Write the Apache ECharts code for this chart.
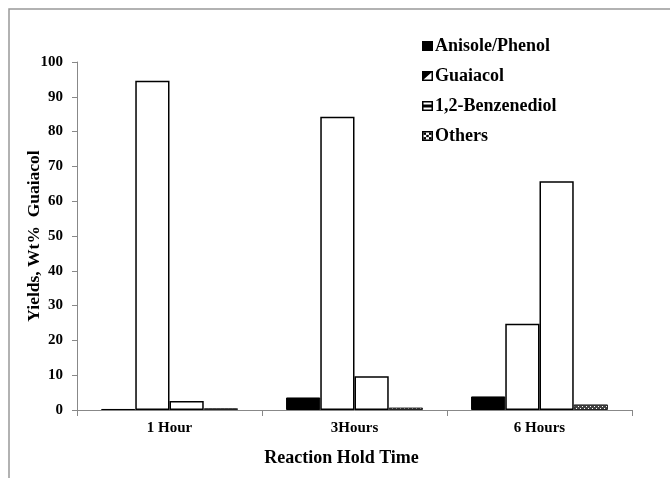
<!DOCTYPE html>
<html><head><meta charset="utf-8">
<script src="https://cdn.jsdelivr.net/npm/echarts@6/dist/echarts.min.js"></script>
<style>html,body{margin:0;padding:0;background:#fff}#c{width:670px;height:478px}</style>
</head><body><div id="c"></div>
<script>
const categories = ['1 Hour', '3Hours', '6 Hours'];
const seriesNames = ['Anisole/Phenol', 'Guaiacol', '1,2-Benzenediol', 'Others'];
const anisolePhenol = [0.3, 3.6, 3.9];
const guaiacol = [94.6, 84.3, 24.8];
const benzenediol = [2.6, 9.7, 65.7];
const others = [0.5, 0.7, 1.6];
const yMin = 0, yMax = 100, yStep = 10;

const FONT = '"Liberation Serif", "DejaVu Serif", serif';

function svgIcon(inner) {
  const s = '<svg xmlns="http://www.w3.org/2000/svg" width="22" height="20" viewBox="0 0 22 20">' + inner + '</svg>';
  return 'image://data:image/svg+xml;charset=utf-8,' + encodeURIComponent(s);
}
const icons = [
  svgIcon('<rect x="0" y="0" width="22" height="20" fill="#000"/>'),
  svgIcon('<rect x="1.5" y="1.5" width="19" height="17" fill="#fff" stroke="#000" stroke-width="3"/><polygon points="1.5,18.5 1.5,1.5 20.5,1.5" fill="#000"/>'),
  svgIcon('<rect x="1.5" y="1.5" width="19" height="17" fill="#fff" stroke="#000" stroke-width="3"/><rect x="1.5" y="7" width="19" height="6" fill="#000"/>'),
  svgIcon('<rect x="1.5" y="1.5" width="19" height="17" fill="#fff" stroke="#000" stroke-width="3"/>' +
    '<rect x="3" y="3" width="5" height="4.7" fill="#000"/><rect x="14" y="3" width="5" height="4.7" fill="#000"/>' +
    '<rect x="8.5" y="7.7" width="5" height="4.6" fill="#000"/>' +
    '<rect x="3" y="12.3" width="5" height="4.7" fill="#000"/><rect x="14" y="12.3" width="5" height="4.7" fill="#000"/>')
];

// dotted pattern for "Others"
const pc = document.createElement('canvas');
pc.width = 4; pc.height = 4;
const pctx = pc.getContext('2d');
pctx.fillStyle = '#444'; pctx.fillRect(0, 0, 4, 4);
pctx.fillStyle = '#fff'; pctx.fillRect(0, 0, 1, 1); pctx.fillRect(2, 2, 1, 1);

const chart = echarts.init(document.getElementById('c'), null, { renderer: 'canvas' });

const barCommon = { type: 'bar', barGap: '0%', barCategoryGap: '26%' };

chart.setOption({
  animation: false,
  backgroundColor: '#fff',
  graphic: [{
    type: 'rect', shape: { x: 9, y: 9, width: 720, height: 520 },
    style: { fill: 'none', stroke: '#999', lineWidth: 1.5 }, silent: true, z: -1
  }],
  grid: { left: 77, right: 38, top: 62, bottom: 68, containLabel: false },
  legend: {
    orient: 'vertical', left: 417, top: 32, itemWidth: 11, itemHeight: 10, itemGap: 12,
    data: seriesNames.map((n, i) => ({ name: n, icon: icons[i] })),
    textStyle: { fontFamily: FONT, fontWeight: 'bold', fontSize: 18, color: '#000', lineHeight: 18, padding: [0, 0, 0, -3] }
  },
  xAxis: {
    type: 'category', data: categories,
    name: 'Reaction Hold Time', nameLocation: 'middle', nameGap: 39, nameMoveOverlap: false,
    nameTextStyle: { fontFamily: FONT, fontWeight: 'bold', fontSize: 18, color: '#000', padding: [0, 26, 0, 0] },
    axisLine: { lineStyle: { color: '#888', width: 1 } },
    axisTick: { show: true, inside: false, length: 6, lineStyle: { color: '#888' } },
    axisLabel: { fontFamily: FONT, fontWeight: 'bold', fontSize: 15, color: '#000', margin: 11 },
    splitLine: { show: false }
  },
  yAxis: {
    type: 'value', min: yMin, max: yMax, interval: yStep,
    name: 'Yields, Wt%  Guaiacol', nameLocation: 'middle', nameGap: 34, nameRotate: 90, nameMoveOverlap: false,
    nameTextStyle: { fontFamily: FONT, fontWeight: 'bold', fontSize: 17.5, color: '#000' },
    axisLine: { show: true, lineStyle: { color: '#888', width: 1 } },
    axisTick: { show: true, inside: false, length: 5, lineStyle: { color: '#888' } },
    axisLabel: { fontFamily: FONT, fontWeight: 'bold', fontSize: 15, color: '#000', margin: 14 },
    splitLine: { show: false }
  },
  series: [
    Object.assign({}, barCommon, { name: seriesNames[0], data: anisolePhenol,
      itemStyle: { color: '#000', borderColor: '#000', borderWidth: 1 } }),
    Object.assign({}, barCommon, { name: seriesNames[1], data: guaiacol,
      itemStyle: { color: '#fff', borderColor: '#000', borderWidth: 1.5 } }),
    Object.assign({}, barCommon, { name: seriesNames[2], data: benzenediol,
      itemStyle: { color: '#fff', borderColor: '#000', borderWidth: 1.5 } }),
    Object.assign({}, barCommon, { name: seriesNames[3], data: others,
      itemStyle: { color: { image: pc, repeat: 'repeat' }, borderColor: '#222', borderWidth: 1 } })
  ]
});
</script>
</body></html>
